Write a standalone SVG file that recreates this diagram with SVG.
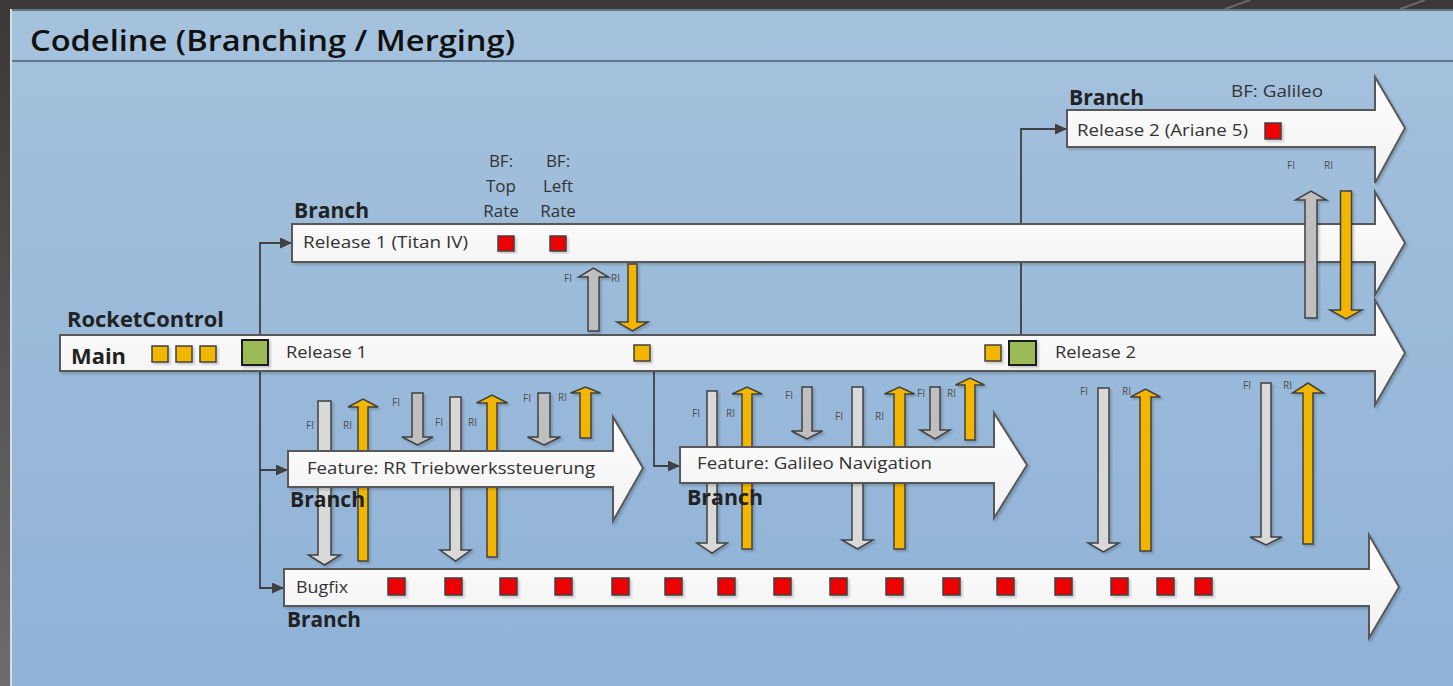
<svg xmlns="http://www.w3.org/2000/svg" width="1453" height="686" viewBox="0 0 1453 686">
<defs>
<linearGradient id="bgL" x1="0" y1="0" x2="0" y2="1"><stop offset="0" stop-color="#3a3836"/><stop offset="1" stop-color="#6c6c6c"/></linearGradient>
<linearGradient id="panel" x1="0" y1="0" x2="0" y2="1"><stop offset="0" stop-color="#a5c2dd"/><stop offset="1" stop-color="#8fb2d7"/></linearGradient>
<linearGradient id="bar" x1="0" y1="0" x2="0" y2="1"><stop offset="0" stop-color="#ffffff"/><stop offset="1" stop-color="#f0f0f0"/></linearGradient>
<filter id="sh" x="-10%" y="-10%" width="130%" height="130%"><feDropShadow dx="2" dy="2" stdDeviation="1.2" flood-color="#000" flood-opacity="0.18"/></filter>
<marker id="ah" viewBox="0 0 12 11" markerWidth="12" markerHeight="11" refX="12" refY="5.5" orient="auto" markerUnits="userSpaceOnUse"><path d="M0,0 L12,5.5 L0,11 z" fill="#404040"/></marker>
<style>
.big{fill:url(#bar);stroke:#595959;stroke-width:2;filter:url(#sh)}
.sq{stroke:#404040;stroke-width:1.5;filter:url(#sh)}
.o{fill:#f2b600}.r{fill:#ee0000}.g{fill:#9bbb59;stroke:#1a1a1a;stroke-width:2}
.fl{fill:#d9d9d9;stroke:#404040;stroke-width:1.5;filter:url(#sh)}
.fm{fill:#bfbfbf;stroke:#404040;stroke-width:1.5;filter:url(#sh)}
.ri{fill:#f2b600;stroke:#404040;stroke-width:1.5;filter:url(#sh)}
.t{font-family:"Open Sans","Liberation Sans",sans-serif;font-size:17px;fill:#333}
.b{font-family:"Open Sans","Liberation Sans",sans-serif;font-size:21px;font-weight:700;fill:#222}
.s{font-family:"Open Sans","Liberation Sans",sans-serif;font-size:10px;fill:#4d4d4d}
.c{fill:none;stroke:#404040;stroke-width:1.8}
</style>
</defs>

<g id="background">
<rect x="0" y="0" width="1453" height="686" fill="url(#bgL)"/>
<rect x="0" y="0" width="1453" height="10" fill="#3b3937"/>
<line x1="1225" y1="9" x2="1250" y2="0" stroke="#6a6866" stroke-width="2"/>
<line x1="1400" y1="9" x2="1425" y2="0" stroke="#6a6866" stroke-width="2"/>
<rect x="10" y="9" width="1443" height="677" fill="#d8dde2"/>
<rect x="12" y="10" width="1441" height="676" fill="url(#panel)"/>
<line x1="12" y1="10" x2="1453" y2="10" stroke="#4a5663" stroke-width="1.5"/>
<line x1="12" y1="61" x2="1453" y2="61" stroke="#60778e" stroke-width="2"/>
<text x="30" y="51" font-family="'Open Sans','Liberation Sans',sans-serif" font-size="28" font-weight="600" fill="#111" textLength="485" lengthAdjust="spacingAndGlyphs">Codeline (Branching / Merging)</text>
</g>

<g id="connectors">
<path class="c" d="M260,335 V243 H292" marker-end="url(#ah)"/>
<path class="c" d="M1021,335 V129 H1067" marker-end="url(#ah)"/>
<path class="c" d="M260,371 V470 H288" marker-end="url(#ah)"/>
<path class="c" d="M260,470 V588 H284" marker-end="url(#ah)"/>
<path class="c" d="M654,371 V466 H680" marker-end="url(#ah)"/>
</g>

<g id="main">
<polygon class="big" points="60,335 1375,335 1375,300 1405,353 1375,405 1375,371 60,371"/>
<text class="b" x="67" y="327" textLength="157" lengthAdjust="spacingAndGlyphs">RocketControl</text>
<text class="b" x="71" y="364" textLength="55" lengthAdjust="spacingAndGlyphs">Main</text>
<rect class="sq o" x="152" y="346" width="16" height="16"/>
<rect class="sq o" x="176" y="346" width="16" height="16"/>
<rect class="sq o" x="200" y="346" width="16" height="16"/>
<rect class="sq g" x="242" y="340" width="26" height="25"/>
<text class="t" x="286" y="358" textLength="81" lengthAdjust="spacingAndGlyphs">Release 1</text>
<rect class="sq o" x="634" y="345" width="16" height="16"/>
<rect class="sq o" x="985" y="345" width="16" height="16"/>
<rect class="sq g" x="1009" y="341" width="27" height="24"/>
<text class="t" x="1055" y="358" textLength="81" lengthAdjust="spacingAndGlyphs">Release 2</text>
</g>

<g id="release1">
<polygon class="big" points="292,224 1375,224 1375,192 1405,243 1375,295 1375,262 292,262"/>
<text class="b" x="294" y="218" textLength="75" lengthAdjust="spacingAndGlyphs">Branch</text>
<text class="t" x="303" y="248" textLength="165" lengthAdjust="spacingAndGlyphs">Release 1 (Titan IV)</text>
<rect class="sq r" x="498" y="236" width="16" height="15"/>
<rect class="sq r" x="550" y="236" width="16" height="15"/>
<text class="t" text-anchor="middle" x="501" y="167">BF:</text>
<text class="t" text-anchor="middle" x="501" y="192">Top</text>
<text class="t" text-anchor="middle" x="501" y="217">Rate</text>
<text class="t" text-anchor="middle" x="558" y="167">BF:</text>
<text class="t" text-anchor="middle" x="558" y="192">Left</text>
<text class="t" text-anchor="middle" x="558" y="217">Rate</text>
</g>

<g id="release2">
<polygon class="big" points="1067,110 1375,110 1375,77 1405,128 1375,183 1375,147 1067,147"/>
<text class="b" x="1069" y="105" textLength="75" lengthAdjust="spacingAndGlyphs">Branch</text>
<text class="t" x="1231" y="97" textLength="92" lengthAdjust="spacingAndGlyphs">BF: Galileo</text>
<text class="t" x="1077" y="136" textLength="171" lengthAdjust="spacingAndGlyphs">Release 2 (Ariane 5)</text>
<rect class="sq r" x="1265" y="123" width="16" height="16"/>
</g>

<g id="merge-release1">
<polygon class="fm" points="588,331 588,277 578.5,277 593.5,268 608.5,277 599,277 599,331"/>
<polygon class="ri" points="628,264 637,264 637,322 648,322 632.5,331 617,322 628,322"/>
<text class="s" x="564" y="282">FI</text>
<text class="s" x="611" y="282">RI</text>
</g>

<g id="merge-release2">
<polygon class="fm" points="1305,318 1305,200 1295.5,200 1311,191 1326.5,200 1317,200 1317,318"/>
<polygon class="ri" points="1340.5,191 1351.5,191 1351.5,310 1362,310 1346,319 1330,310 1340.5,310"/>
<text class="s" x="1287" y="169">FI</text>
<text class="s" x="1324" y="169">RI</text>
</g>

<g id="merge-feature-rr">
<polygon class="fl" points="318,401 331,401 331,555 340.5,555 324.5,565 308.5,555 318,555"/>
<polygon class="ri" points="358,561 358,407 348,407 363,399 378,407 368,407 368,561"/>
<polygon class="fm" points="412,393 423,393 423,437 433,437 417.5,445 402,437 412,437"/>
<polygon class="fl" points="450,397 461,397 461,550 471,550 455.5,561 440,550 450,550"/>
<polygon class="ri" points="487,557 487,403 476.5,403 492,395 507.5,403 497,403 497,557"/>
<polygon class="fm" points="538,393 550,393 550,437 560.5,437 544,445 527.5,437 538,437"/>
<polygon class="ri" points="580,438 580,393 570.5,393 585.5,387 600.5,393 591,393 591,438"/>
<text class="s" x="306" y="429">FI</text>
<text class="s" x="343" y="429">RI</text>
<text class="s" x="392" y="406">FI</text>
<text class="s" x="435" y="426">FI</text>
<text class="s" x="468" y="426">RI</text>
<text class="s" x="523" y="402">FI</text>
<text class="s" x="558" y="401">RI</text>
</g>

<g id="merge-feature-galileo">
<polygon class="fl" points="707,391 717,391 717,543 727,543 712,553 697,543 707,543"/>
<polygon class="ri" points="742,549 742,394 732,394 747,387 762,394 752,394 752,549"/>
<polygon class="fm" points="802,387 812,387 812,431 822.5,431 807,439 791.5,431 802,431"/>
<polygon class="fl" points="852,387 863,387 863,540 873,540 857.5,549 842,540 852,540"/>
<polygon class="ri" points="894,549 894,394 884.5,394 899.5,387 914.5,394 905,394 905,549"/>
<polygon class="fm" points="930,387 940,387 940,430 950,430 935,439 920,430 930,430"/>
<polygon class="ri" points="965,440 965,385 955.5,385 970,378 984.5,385 975,385 975,440"/>
<text class="s" x="692" y="417">FI</text>
<text class="s" x="726" y="417">RI</text>
<text class="s" x="785" y="399">FI</text>
<text class="s" x="835" y="420">FI</text>
<text class="s" x="875" y="420">RI</text>
<text class="s" x="917" y="397">FI</text>
<text class="s" x="947" y="397">RI</text>
</g>

<g id="merge-bugfix">
<polygon class="fl" points="1098,388 1109,388 1109,543 1119,543 1103.5,552 1088,543 1098,543"/>
<polygon class="ri" points="1140,551 1140,397 1130.5,397 1145.5,389 1160.5,397 1151,397 1151,551"/>
<polygon class="fl" points="1261,383 1271,383 1271,537 1282,537 1266,545 1250,537 1261,537"/>
<polygon class="ri" points="1303,544 1303,393 1292.5,393 1308,383 1323.5,393 1313,393 1313,544"/>
<text class="s" x="1080" y="395">FI</text>
<text class="s" x="1122" y="395">RI</text>
<text class="s" x="1243" y="389">FI</text>
<text class="s" x="1283" y="389">RI</text>
</g>

<g id="feature-rr">
<polygon class="big" points="288,451 613,451 613,417 643,468 613,521 613,487 288,487"/>
<text class="t" x="307" y="474" textLength="288" lengthAdjust="spacingAndGlyphs">Feature: RR Triebwerkssteuerung</text>
<text class="b" x="290" y="507" textLength="75" lengthAdjust="spacingAndGlyphs">Branch</text>
</g>

<g id="feature-galileo">
<polygon class="big" points="680,447 994,447 994,413 1027,465 994,518 994,483 680,483"/>
<text class="t" x="697" y="469" textLength="235" lengthAdjust="spacingAndGlyphs">Feature: Galileo Navigation</text>
<text class="b" x="687" y="505" textLength="76" lengthAdjust="spacingAndGlyphs">Branch</text>
</g>

<g id="bugfix">
<polygon class="big" points="284,569 1369,569 1369,535 1399,587 1369,638 1369,606 284,606"/>
<text class="t" x="296" y="593" textLength="52" lengthAdjust="spacingAndGlyphs">Bugfix</text>
<text class="b" x="287" y="627" textLength="74" lengthAdjust="spacingAndGlyphs">Branch</text>
<rect class="sq r" x="388" y="578" width="17" height="17"/>
<rect class="sq r" x="445" y="578" width="17" height="17"/>
<rect class="sq r" x="500" y="578" width="17" height="17"/>
<rect class="sq r" x="555" y="578" width="17" height="17"/>
<rect class="sq r" x="612" y="578" width="17" height="17"/>
<rect class="sq r" x="665" y="578" width="17" height="17"/>
<rect class="sq r" x="718" y="578" width="17" height="17"/>
<rect class="sq r" x="774" y="578" width="17" height="17"/>
<rect class="sq r" x="830" y="578" width="17" height="17"/>
<rect class="sq r" x="886" y="578" width="17" height="17"/>
<rect class="sq r" x="943" y="578" width="17" height="17"/>
<rect class="sq r" x="997" y="578" width="17" height="17"/>
<rect class="sq r" x="1055" y="578" width="17" height="17"/>
<rect class="sq r" x="1111" y="578" width="17" height="17"/>
<rect class="sq r" x="1157" y="578" width="17" height="17"/>
<rect class="sq r" x="1195" y="578" width="17" height="17"/>
</g>
</svg>
